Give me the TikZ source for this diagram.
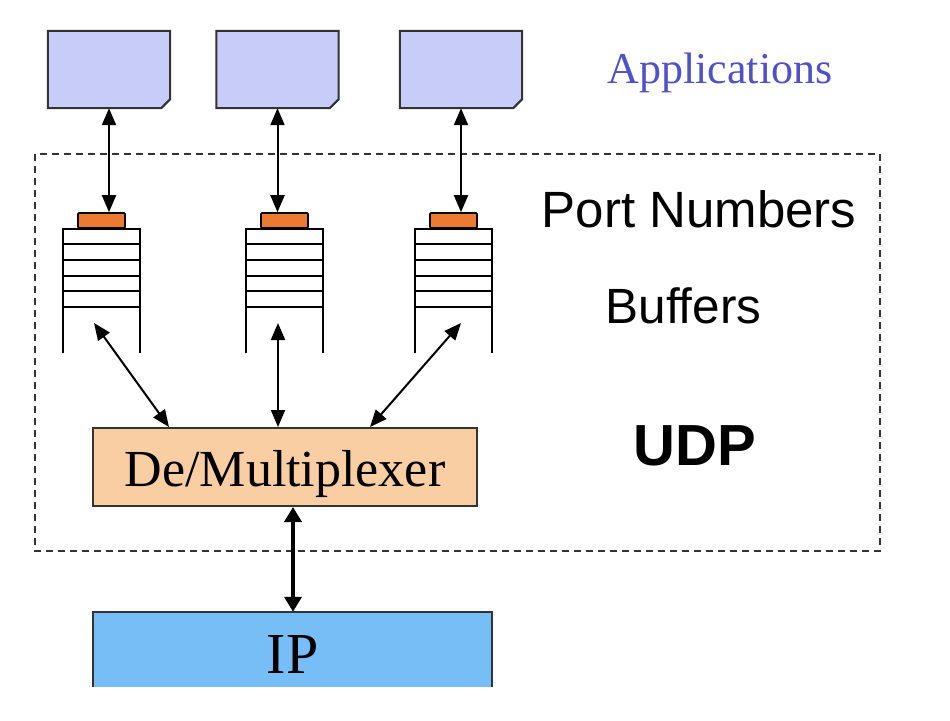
\documentclass[tikz,border=0pt]{standalone}
\usepackage{fontspec}
\setmainfont{Liberation Serif}
\setsansfont{Liberation Sans}
\usetikzlibrary{arrows.meta}

\definecolor{appfill}{RGB}{200,204,248}
\definecolor{capfill}{RGB}{236,122,48}
\definecolor{muxfill}{RGB}{248,206,162}
\definecolor{ipfill}{RGB}{120,190,246}
\definecolor{apptext}{RGB}{80,80,200}

\begin{document}
\begin{tikzpicture}[x=1pt, y=-1pt,
	appbox/.style = { minimum width=122pt, minimum height=77pt, inner sep=0pt },
	bufcap/.style = { draw, line width=1.6pt, fill=capfill, minimum width=47pt,
			minimum height=15pt, inner sep=0pt, rounded corners=1pt },
	bufstack/.style = { minimum width=77pt, minimum height=124pt, inner sep=0pt },
	link/.style = { {Triangle[length=17pt,width=14pt]}-{Triangle[length=17pt,width=14pt]},
			line width=2pt },
	sidetext/.style = { anchor=base, font=\sffamily\fontsize{51}{60}\selectfont }]

  \useasboundingbox (0,0) rectangle (950,720);

  % UDP area
  \draw [dashed, dash pattern=on 7pt off 5pt, line width=1.6pt, black!80]
	(35,154) rectangle (880,551);

  % applications
  \foreach \name/\x in {app1/109, app2/277.5, app3/461} {
    \node[name=\name, appbox] at (\x,69.5) {};
    \filldraw [fill=appfill, draw=black!80, line width=2pt]
	(\name.north west) -- (\name.north east) -- ([yshift=9pt]\name.south east)
	-- ([xshift=-9pt]\name.south east) -- (\name.south west) -- cycle;
    \filldraw [fill=appfill!55!black, draw=black!80, line width=1.2pt]
	([yshift=9pt]\name.south east) -- ([xshift=-3pt,yshift=6pt]\name.south east)
	-- ([xshift=-9pt]\name.south east) -- cycle;
  }
  \node[name=apps, anchor=base, text=apptext,
	font=\fontsize{44}{50}\selectfont] at (720,83) {Applications};

  % buffers with port numbers
  \foreach \name/\x in {buf1/101.5, buf2/284.5, buf3/453.5} {
    \node[name=\name, bufstack] at (\x,291) {};
    \node[name=\name cap, bufcap, anchor=south] at (\name.north) {};
    \draw [line width=2pt] (\name.south west) -- (\name.north west)
	-- (\name.north east) -- (\name.south east);
    \foreach \i in {1,...,5}
      \draw [line width=2pt] ([yshift=-15.6*\i pt]\name.north west)
	-- ([yshift=-15.6*\i pt]\name.north east);
  }
  \draw [link] (app1.south) -- (app1.south |- buf1cap.north);
  \draw [link] (app2.south) -- (app2.south |- buf2cap.north);
  \draw [link] (app3.south) -- (app3.south |- buf3cap.north);

  \node[name=ports, sidetext] at (699,227) {Port Numbers};
  \node[name=bufs, sidetext, font=\sffamily\fontsize{49.5}{58}\selectfont]
	at (683.5,323) {Buffers};
  \node[name=udp, sidetext, font=\sffamily\bfseries\fontsize{58}{66}\selectfont]
	at (695,465) {UDP};

  % de/multiplexer
  \node[name=mux, draw=black!80, line width=2pt, fill=muxfill,
	minimum width=384pt, minimum height=78pt, inner sep=0pt,
	text height=38pt, text depth=0pt, font=\fontsize{52}{60}\selectfont]
	at (285,467) {De/Multiplexer};
  \coordinate (b1) at (94,323);
  \coordinate (b2) at (278,323);
  \coordinate (b3) at (461,323);
  \draw [link] (b1) -- (mux.north -| 169,0);
  \draw [link] (b2) -- (mux.north -| 278,0);
  \draw [link] (b3) -- (mux.north -| 370,0);

  % IP
  \node[name=ip, fill=ipfill, minimum width=399pt, minimum height=75pt,
	inner sep=0pt, text height=47pt, text depth=0pt,
	font=\fontsize{58}{66}\selectfont] at (292.5,649.5) {IP};
  \draw [line width=2pt, black!80] (ip.south west) -- (ip.north west)
	-- (ip.north east) -- (ip.south east);
  \draw [{Triangle[length=15pt,width=17pt]}-{Triangle[length=15pt,width=17pt]},
	line width=4.5pt] (mux.south -| 293,0) -- (ip.north -| 293,0);
\end{tikzpicture}
\end{document}
